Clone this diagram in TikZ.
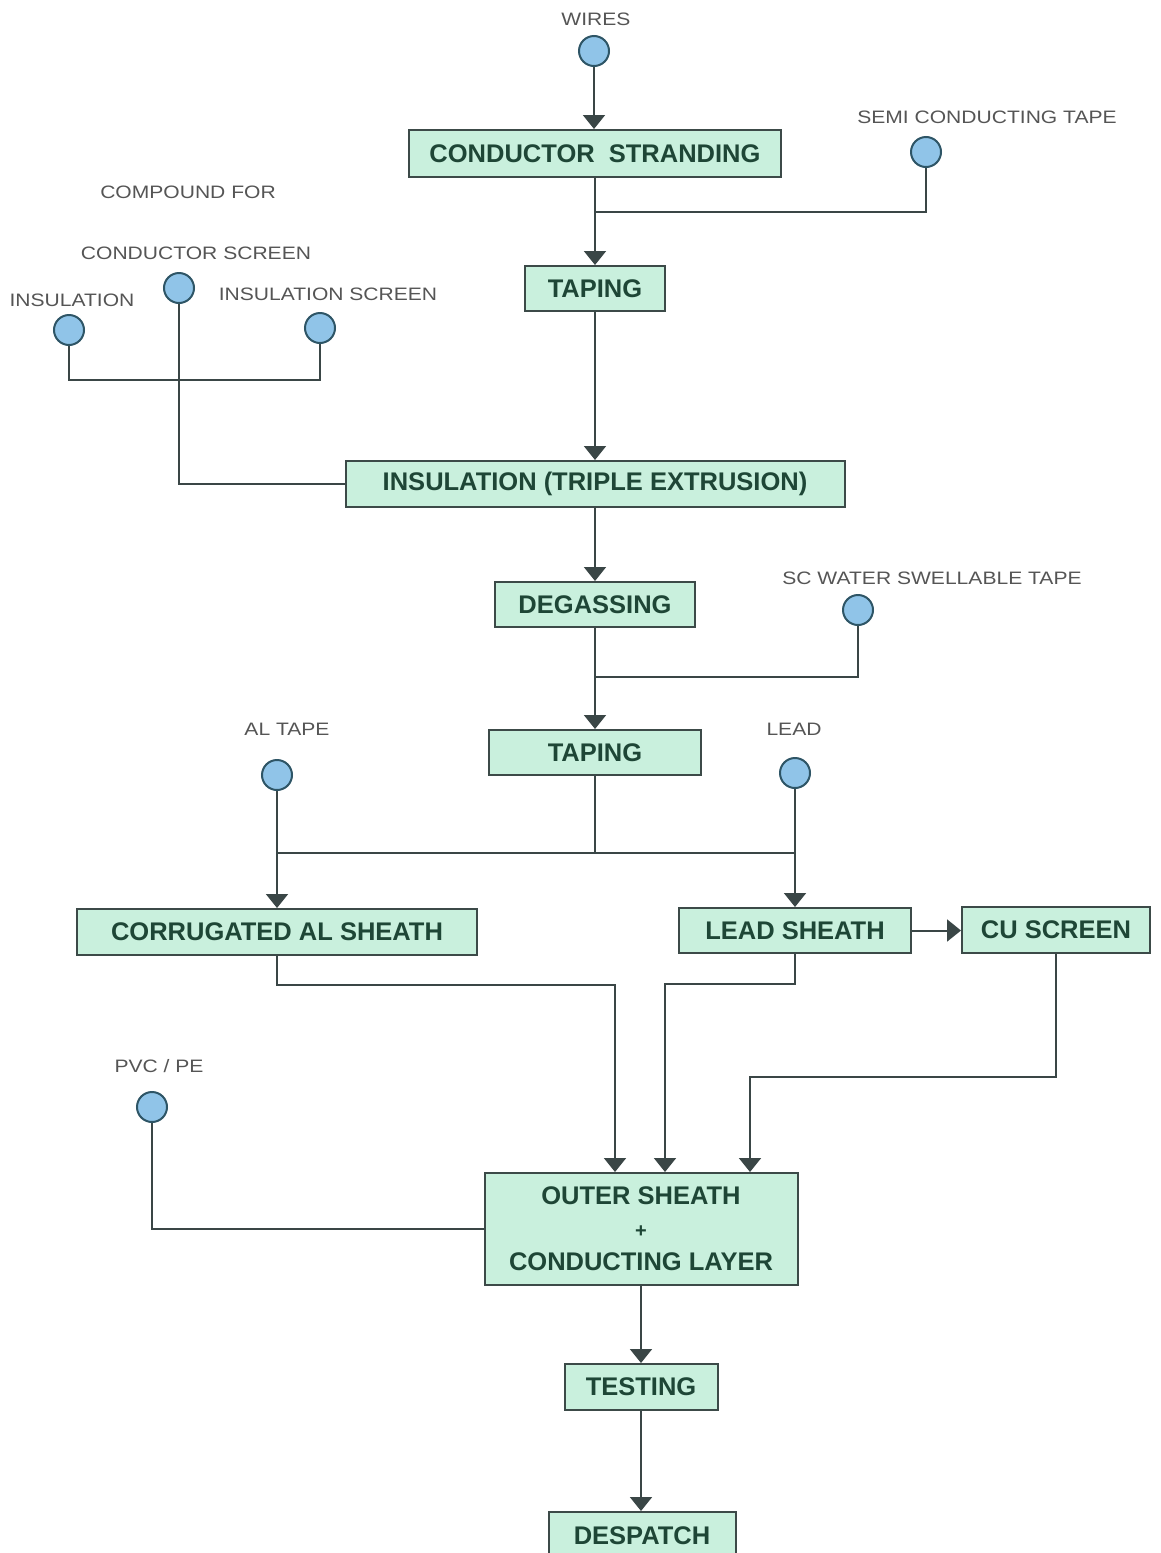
\documentclass[tikz,border=0pt]{standalone}
\usepackage{fontspec}
\setmainfont{Liberation Sans}
\newfontfamily\lblfont[FakeStretch=1.17]{Liberation Sans}
\usetikzlibrary{arrows.meta}
\definecolor{boxfill}{HTML}{C9F0DD}
\definecolor{boxdraw}{HTML}{3C4A48}
\definecolor{boxtext}{HTML}{1E4636}
\definecolor{circfill}{HTML}{90C4E8}
\definecolor{circdraw}{HTML}{2E5566}
\definecolor{lbl}{HTML}{555555}
\definecolor{wire}{HTML}{3A4646}
\begin{document}
\begin{tikzpicture}[x=1pt,y=-1pt,
 proc/.style={draw=boxdraw, line width=2pt, fill=boxfill, text=boxtext, font=\fontsize{25.5}{33}\selectfont\bfseries, inner sep=0pt, align=center},
 src/.style={circle, draw=circdraw, line width=2pt, fill=circfill, minimum size=30pt, inner sep=0pt},
 lab/.style={text=lbl, font=\lblfont\fontsize{18}{20}\selectfont, inner sep=0pt},
 conn/.style={draw=wire, line width=2pt},
 arr/.style={conn, -{Triangle[width=22pt,length=14pt]}}]
\useasboundingbox (0,0) rectangle (1160,1553);
\clip (0,0) rectangle (1160,1553);
\fill[white] (0,0) rectangle (1160,1553);

% process boxes
\node[proc, minimum width=372, minimum height=47] (cs) at (595,153.5) {CONDUCTOR\ \ STRANDING};
\node[proc, minimum width=140, minimum height=45] (tap1) at (595,288.5) {TAPING};
\node[proc, minimum width=499, minimum height=46] (ins) at (595,484) {INSULATION (TRIPLE EXTRUSION)};
\node[proc, minimum width=200, minimum height=45] (deg) at (595,604.5) {DEGASSING};
\node[proc, minimum width=212, minimum height=45] (tap2) at (595,752.5) {TAPING};
\node[proc, minimum width=400, minimum height=46] (al) at (277,932) {CORRUGATED AL SHEATH};
\node[proc, minimum width=232, minimum height=45] (ls) at (795,930.5) {LEAD SHEATH};
\node[proc, minimum width=188, minimum height=46] (cu) at (1056,930) {CU SCREEN};
\node[proc, minimum width=313, minimum height=112] (os) at (641,1229) {OUTER SHEATH\\{\fontsize{20}{33}\selectfont +}\\CONDUCTING LAYER};
\node[proc, minimum width=153, minimum height=46] (test) at (641,1387) {TESTING};
\node[proc, minimum width=187, minimum height=48] (desp) at (642,1536) {DESPATCH};

% sources
\node[src] (wires) at (594,51) {};
\node[lab] (lwires) at (596,19) {WIRES};
\node[src] (semi) at (926,152) {};
\node[lab] (lsemi) at (987,117) {SEMI CONDUCTING TAPE};
\node[lab] (lcomp) at (188,192) {COMPOUND FOR};
\node[src] (ccs) at (179,288) {};
\node[lab] (lccs) at (196,253) {CONDUCTOR SCREEN};
\node[src] (cins) at (69,330) {};
\node[lab] (lcins) at (72,300) {INSULATION};
\node[src] (cis) at (320,328) {};
\node[lab] (lcis) at (328,294) {INSULATION SCREEN};
\node[src] (scw) at (858,610) {};
\node[lab] (lscw) at (932,578) {SC WATER SWELLABLE TAPE};
\node[src] (altape) at (277,775) {};
\node[lab] (laltape) at (287,729) {AL TAPE};
\node[src] (lead) at (795,773) {};
\node[lab] (llead) at (794,729) {LEAD};
\node[src] (pvc) at (152,1107) {};
\node[lab] (lpvc) at (159,1066) {PVC / PE};

% junction points
\coordinate (j1) at (595,212);
\coordinate (j2) at (320,380);
\coordinate (j3) at (595,677);
\coordinate (j4) at (595,853);
\coordinate (hl) at (277,853);
\coordinate (hr) at (795,853);
\coordinate (k1) at (615,985);
\coordinate (k2) at (665,984);
\coordinate (k3) at (750,1077);

% connectors
\draw[arr] (wires) -- (cs.north -| wires);
\draw[conn] (semi.south) |- (j1);
\draw[arr] (cs) -- (tap1);
\draw[conn] (cins.south) |- (j2) -- (cis.south);
\draw[conn] (ccs.south) |- (ins.west);
\draw[arr] (tap1) -- (ins);
\draw[arr] (ins) -- (deg);
\draw[conn] (scw.south) |- (j3);
\draw[arr] (deg) -- (tap2);
\draw[conn] (tap2.south) -- (j4);
\draw[conn] (hl) -- (hr);
\draw[arr] (altape) -- (al);
\draw[arr] (lead) -- (ls);
\draw[arr] (ls.east) -- (ls.east -| cu.west);
\draw[arr] (al.south) |- (k1) -- (k1 |- os.north);
\draw[arr] (ls.south) |- (k2) -- (k2 |- os.north);
\draw[arr] (cu.south) |- (k3) -- (k3 |- os.north);
\draw[conn] (pvc.south) |- (os.west);
\draw[arr] (os.south) -- (os.south |- test.north);
\draw[arr] (test.south) -- (test.south |- desp.north);
\end{tikzpicture}
\end{document}
